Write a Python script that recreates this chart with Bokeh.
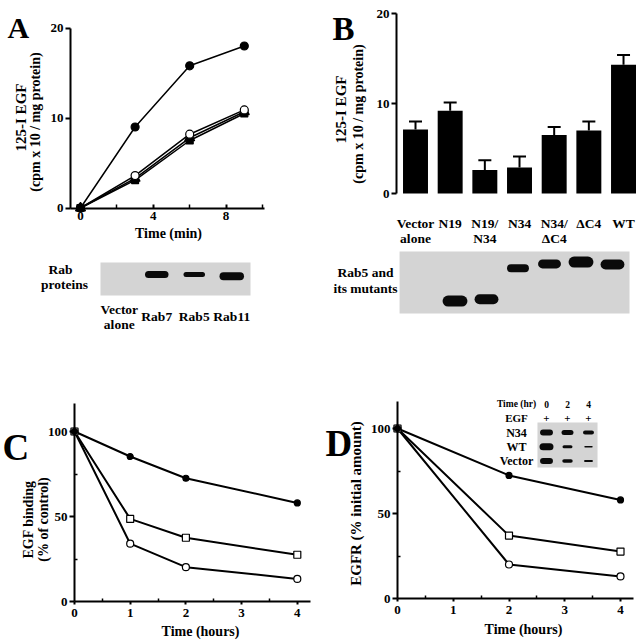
import math
from bokeh.plotting import figure
from bokeh.models import (Range1d, FixedTicker, Label, ColumnDataSource, Whisker,
                          TeeHead, LinearAxis)
from bokeh.embed import file_html
from bokeh.resources import INLINE

# ---------------- data ----------------
# Panel A: 125-I EGF uptake vs time (min)
a_time_min = [0, 3, 6, 9]
a_rab5 = [0, 9.0, 15.8, 18.0]      # filled circles
a_rab7 = [0, 3.6, 8.2, 10.9]       # open circles
a_rab11 = [0, 3.1, 7.5, 10.5]      # filled squares
a_vector = [0, 3.3, 7.8, 10.7]     # filled triangles
a_xticks = [0, 4, 8]
a_xminor = [2, 6, 10]
a_yticks = [0, 10, 20]
a_lanes = ["Vector\nalone", "Rab7", "Rab5", "Rab11"]
a_band_lane = ["Rab7", "Rab5", "Rab11"]
a_band_mobility = [0.64, 0.64, 0.58]
a_band_intensity = [7, 5, 8]

# Panel B: 125-I EGF with Rab5 mutants
b_categories = ["Vector\nalone", "N19", "N19/\nN34", "N34", "N34/\nΔC4", "ΔC4", "WT"]
b_values = [7.1, 9.2, 2.6, 2.9, 6.5, 7.0, 14.3]
b_errors = [0.9, 0.9, 1.1, 1.2, 0.9, 1.0, 1.1]
b_yticks = [0, 10, 20]
b_band_lane = ["N19", "N19/\nN34", "N34", "N34/\nΔC4", "ΔC4", "WT"]
b_band_mobility = [0.20, 0.23, 0.73, 0.80, 0.83, 0.79]
b_band_intensity = [11, 10, 8, 9, 11, 10]

# Panel C: EGF binding (% of control)
c_time_h = [0, 1, 2, 4]
c_n34 = [100, 85.3, 72.5, 58.0]
c_wt = [100, 48.6, 37.5, 27.5]
c_vector = [100, 34.0, 20.2, 13.3]
cd_xticks = [0, 1, 2, 3, 4]
cd_xminor = [0.5, 1.5, 2.5, 3.5]
cd_yticks = [0, 50, 100]
cd_yminor = [25, 75]

# Panel D: EGFR (% initial amount)
d_time_h = [0, 2, 4]
d_n34 = [100, 72.4, 58.0]
d_wt = [100, 37.0, 27.6]
d_vector = [100, 20.0, 13.0]
inset_time_hr = [0, 2, 4]
inset_rows = ["N34", "WT", "Vector"]
inset_n34 = [6, 5, 4]
inset_wt = [7, 3, 1.5]
inset_vector = [6, 3.5, 2]

# ---------------- canvas ----------------
FONT = "Liberation Serif"
INK = "black"
GRAY = "#d4d4d4"
W, H = 638, 640

p = figure(width=W, height=H, x_range=Range1d(0, W), y_range=Range1d(H, 0),
           min_border=0, x_axis_location=None, y_axis_location=None,
           toolbar_location=None, output_backend="svg")
p.outline_line_color = None
p.grid.visible = False
if p.title is not None:
    p.title.visible = False


def xr(anchor_px, ppu, anchor_val=0.0):
    return Range1d(anchor_val + (0 - anchor_px) / ppu, anchor_val + (W - anchor_px) / ppu)


def yr(anchor_px, ppu, anchor_val=0.0):
    return Range1d(anchor_val + (anchor_px - H) / ppu, anchor_val + anchor_px / ppu)


p.extra_x_ranges = {
    "a_x": xr(80, 18.2), "ab_x": xr(118.75, 37.5),
    "b_x": xr(415, 34.67), "bb_x": xr(423, 31.5),
    "c_x": xr(74, 55.7), "d_x": xr(397, 55.75), "i_x": xr(546, 10.5),
}
p.extra_y_ranges = {
    "a_y": yr(207.5, 9.0), "ab_y": yr(295, 33.0),
    "b_y": yr(193, 9.0), "bb_y": yr(313, 62.0),
    "c_y": yr(601, 1.7), "d_y": yr(598, 1.7), "i_y": yr(432, -14.25),
}


def style_axis(ax, tick_in=0, tick_out=5, minor_in=0, minor_out=0, standoff=2, size=13):
    ax.axis_line_width = 2
    ax.axis_line_color = INK
    ax.major_tick_line_width = 2
    ax.major_tick_line_color = INK
    ax.minor_tick_line_width = 1.5
    ax.minor_tick_line_color = INK
    ax.major_tick_in = tick_in
    ax.major_tick_out = tick_out
    ax.minor_tick_in = minor_in
    ax.minor_tick_out = minor_out
    ax.major_label_standoff = standoff
    ax.major_label_text_font = FONT
    ax.major_label_text_font_style = "bold"
    ax.major_label_text_font_size = f"{size}px"
    ax.major_label_text_color = INK


def add_axis(side, xname, yname, loc, bounds, ticks, minor, **style):
    ax = LinearAxis(x_range_name=xname, y_range_name=yname, fixed_location=loc,
                    bounds=bounds, ticker=FixedTicker(ticks=ticks, minor_ticks=minor))
    style_axis(ax, **style)
    p.add_layout(ax, side)


def text(x, y, s, size, align="center", baseline="middle", angle=0.0,
         xname="default", yname="default"):
    p.add_layout(Label(x=x, y=y, x_range_name=xname, y_range_name=yname, text=s,
                       text_font=FONT, text_font_style="bold",
                       text_font_size=f"{size}px", text_align=align,
                       text_baseline=baseline, angle=angle, text_color=INK))


def marks(xs, ys, xname, yname, marker, size, filled):
    p.scatter(xs, ys, marker=marker, size=size,
              fill_color=INK if filled else "white", line_color=INK,
              line_width=1.2, x_range_name=xname, y_range_name=yname)


def bands(lanes, mobility, intensity, half_len, xname, yname):
    # a blot band: a thick stroke with rounded ends, thickness = band intensity (px)
    p.segment(x0=[x - half_len for x in lanes], x1=[x + half_len for x in lanes],
              y0=mobility, y1=mobility, line_width=intensity, line_color="#0a0a0a",
              line_cap="round", x_range_name=xname, y_range_name=yname)


# ---------------- Panel A ----------------
a_yaxis_at = (70 - 80) / 18.2
add_axis("below", "a_x", "a_y", 0, (a_yaxis_at, (264 - 80) / 18.2), a_xticks, a_xminor,
         tick_in=4, tick_out=0, minor_in=4, standoff=4)
add_axis("left", "a_x", "a_y", a_yaxis_at, (0, 20), a_yticks, [], tick_out=5, standoff=2)
for ys in (a_vector, a_rab11, a_rab7, a_rab5):
    p.line(a_time_min, ys, line_color=INK, line_width=1.5, x_range_name="a_x", y_range_name="a_y")
marks(a_time_min, a_vector, "a_x", "a_y", "triangle", 10, True)
marks(a_time_min, a_rab11, "a_x", "a_y", "square", 7, True)
marks(a_time_min, a_rab7, "a_x", "a_y", "circle", 8, False)
marks(a_time_min, a_rab5, "a_x", "a_y", "circle", 8, True)
text(7, 27, "A", 30, align="left", baseline="alphabetic")
text(20, 117, "125-I EGF", 15, angle=math.pi / 2)
text(35, 118, "(cpm x 10   / mg protein)", 14, angle=math.pi / 2)
text(168, 233, "Time (min)", 14)

# Panel A blot
p.quad(left=-0.5, right=len(a_lanes) - 0.5, bottom=0, top=1, fill_color=GRAY,
       line_color=None, x_range_name="ab_x", y_range_name="ab_y")
bands([a_lanes.index(l) for l in a_band_lane], a_band_mobility, a_band_intensity,
      0.22, "ab_x", "ab_y")
for i, name in enumerate(a_lanes):
    parts = name.split("\n")
    y0 = 316 - 7.5 * (len(parts) - 1)
    for j, part in enumerate(parts):
        text(i, y0 + 15 * j, part, 13.5, xname="ab_x")
text(60, 269, "Rab", 13.5)
text(64, 284, "proteins", 13.5)

# ---------------- Panel B ----------------
b_x = list(range(len(b_categories)))
add_axis("left", "b_x", "b_y", (396 - 415) / 34.67, (0, 20), b_yticks, [],
         tick_out=5, standoff=2)
p.vbar(x=b_x, top=b_values, width=0.72, fill_color=INK, line_color=None,
       x_range_name="b_x", y_range_name="b_y")
b_src = ColumnDataSource(dict(x=b_x, lower=b_values,
                              upper=[v + e for v, e in zip(b_values, b_errors)]))
p.add_layout(Whisker(base="x", lower="lower", upper="upper", source=b_src,
                     x_range_name="b_x", y_range_name="b_y", lower_head=None,
                     upper_head=TeeHead(size=13, line_width=2, line_color=INK),
                     line_width=2, line_color=INK))
for i, name in enumerate(b_categories):
    for j, part in enumerate(name.split("\n")):
        text(i, 223 + 15 * j, part, 13.5, xname="b_x")
text(332, 28, "B", 33, align="left", baseline="alphabetic")
text(340, 109, "125-I EGF", 15, angle=math.pi / 2)
text(358, 110, "(cpm x 10   / mg protein)", 14, angle=math.pi / 2)

# Panel B blot
p.quad(left=-0.76, right=len(b_categories) - 1 + 0.54, bottom=0, top=1, fill_color=GRAY,
       line_color=None, x_range_name="bb_x", y_range_name="bb_y")
bands([b_categories.index(l) for l in b_band_lane], b_band_mobility, b_band_intensity,
      0.22, "bb_x", "bb_y")
text(365, 272, "Rab5 and", 13.5)
text(365, 288, "its mutants", 13.5)

# ---------------- Panel C ----------------
add_axis("below", "c_x", "c_y", 0, (0, (310 - 74) / 55.7), cd_xticks, cd_xminor,
         tick_in=0, tick_out=3, minor_in=3, standoff=4)
add_axis("left", "c_x", "c_y", 0, (0, (601 - 403) / 1.7), cd_yticks, cd_yminor,
         tick_out=5, minor_in=3, standoff=2)
for ys in (c_vector, c_wt, c_n34):
    p.line(c_time_h, ys, line_color=INK, line_width=2, x_range_name="c_x", y_range_name="c_y")
marks(c_time_h, c_vector, "c_x", "c_y", "circle", 7, False)
marks(c_time_h, c_wt, "c_x", "c_y", "square", 7, False)
marks(c_time_h, c_n34, "c_x", "c_y", "circle", 6, True)
text(2, 447, "C", 37, align="left", baseline="alphabetic")
text(28, 519, "EGF binding", 14, angle=math.pi / 2)
text(43, 519, "(% of control)", 14, angle=math.pi / 2)
text(200, 631, "Time (hours)", 14)

# ---------------- Panel D ----------------
add_axis("below", "d_x", "d_y", 0, (0, (633 - 397) / 55.75), cd_xticks, cd_xminor,
         tick_in=0, tick_out=3, minor_in=3, standoff=4)
add_axis("left", "d_x", "d_y", 0, (0, (598 - 401) / 1.7), cd_yticks, cd_yminor,
         tick_out=5, minor_in=3, standoff=2)
for ys in (d_vector, d_wt, d_n34):
    p.line(d_time_h, ys, line_color=INK, line_width=2, x_range_name="d_x", y_range_name="d_y")
marks(d_time_h, d_vector, "d_x", "d_y", "circle", 7, False)
marks(d_time_h, d_wt, "d_x", "d_y", "square", 7, False)
marks(d_time_h, d_n34, "d_x", "d_y", "circle", 6, True)
text(325, 443, "D", 37, align="left", baseline="alphabetic")
text(355, 503, "EGFR (% initial amount)", 15, angle=math.pi / 2)
text(523, 629, "Time (hours)", 14)

# inset western blot (lanes = time in hr, rows = cell lines)
p.quad(left=inset_time_hr[0] - 0.86, right=inset_time_hr[-1] + 0.86,
       top=-0.7, bottom=len(inset_rows) - 1 + 0.46, fill_color=GRAY, line_color=None,
       x_range_name="i_x", y_range_name="i_y")
for r, inten in enumerate((inset_n34, inset_wt, inset_vector)):
    bands(inset_time_hr, [r] * len(inset_time_hr), inten, 0.33, "i_x", "i_y")
label_lane = (516 - 546) / 10.5
text(label_lane, -2, "Time (hr)", 9.5, xname="i_x", yname="i_y")
text(label_lane, -1, "EGF", 11, xname="i_x", yname="i_y")
for t in inset_time_hr:
    text(t, -2, str(t), 9.5, xname="i_x", yname="i_y")
    text(t, -1, "+", 11, xname="i_x", yname="i_y")
for r, name in enumerate(inset_rows):
    text(label_lane, r, name, 12, xname="i_x", yname="i_y")

open("out.html", "w").write(file_html(p, INLINE))
